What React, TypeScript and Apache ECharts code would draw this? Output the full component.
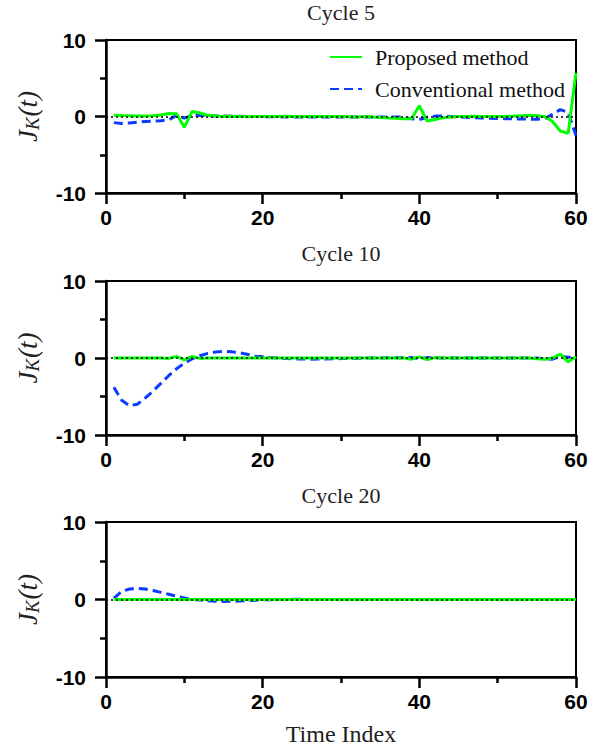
import React, { useEffect, useRef } from "react";
import * as echarts from "echarts";

const timeIndex: number[] = Array.from({ length: 60 }, (_, i) => i + 1);

const cycleTitles = ["Cycle 5", "Cycle 10", "Cycle 20"];
const seriesNames = ["Proposed method", "Conventional method"];

const proposed5 = [
  0.15, 0.12, 0.1, 0.05, 0.05, 0.1, 0.2, 0.4, 0.35, -1.4,
  0.65, 0.45, 0.15, 0.05, 0.0, 0.02, 0.0, -0.02, 0.0, 0.01,
  0.0, 0.0, 0.02, 0.0, -0.02, 0.0, 0.0, 0.01, 0.0, 0.0,
  -0.03, -0.05, 0.0, -0.08, -0.12, -0.18, -0.22, -0.3, -0.3, 1.4,
  -0.6, -0.4, -0.15, -0.05, 0.0, 0.0, 0.02, 0.0, 0.0, 0.0,
  0.02, 0.05, 0.1, 0.15, 0.1, 0.0, -0.65, -1.9, -2.2, 5.7,
];
const conventional5 = [
  -0.8, -0.9, -0.85, -0.75, -0.65, -0.6, -0.55, -0.45, 0.15, -0.2,
  0.1, 0.15, 0.1, 0.05, 0.05, 0.03, 0.02, 0.0, 0.0, -0.02,
  -0.03, -0.03, -0.05, -0.05, -0.06, -0.07, -0.08, -0.08, -0.08, -0.08,
  -0.08, -0.08, -0.07, -0.06, -0.06, -0.05, -0.05, -0.1, -0.3, -0.4,
  -0.1, 0.05, 0.05, 0.0, -0.05, -0.1, -0.15, -0.2, -0.22, -0.25,
  -0.28, -0.3, -0.33, -0.35, -0.35, -0.3, 0.3, 0.9, 0.5, -2.5,
];
const proposed10 = [
  0.0, 0.0, 0.0, 0.0, 0.0, 0.0, 0.0, -0.05, 0.2, -0.25,
  0.2, -0.05, 0.0, 0.0, 0.0, 0.0, 0.0, 0.0, 0.0, 0.0,
  0.0, 0.0, 0.0, 0.0, 0.0, 0.0, 0.0, 0.0, 0.0, 0.0,
  0.0, 0.0, 0.0, 0.0, 0.0, 0.0, 0.0, 0.0, -0.15, 0.15,
  -0.2, 0.05, 0.0, 0.0, 0.0, 0.0, 0.0, 0.0, 0.0, 0.0,
  0.0, 0.0, 0.0, 0.0, -0.1, -0.15, 0.0, 0.5, -0.5, 0.15,
];
const conventional10 = [
  -3.8, -5.5, -6.2, -6.0, -5.2, -4.3, -3.3, -2.3, -1.4, -0.7,
  -0.1, 0.3, 0.6, 0.78, 0.85, 0.8, 0.68, 0.5, 0.32, 0.18,
  0.06, -0.02, -0.08, -0.12, -0.14, -0.15, -0.14, -0.12, -0.1, -0.08,
  -0.06, -0.04, -0.02, 0.0, 0.0, 0.02, 0.02, 0.02, 0.05, -0.1,
  0.05, 0.02, 0.0, 0.0, 0.0, 0.0, 0.0, 0.0, 0.0, 0.0,
  0.0, 0.0, 0.0, 0.0, 0.0, -0.1, -0.15, 0.2, 0.1, 0.1,
];
const proposed20 = [
  0, 0, 0, 0, 0, 0, 0, 0, 0, 0,
  0, 0, 0, 0, 0, 0, 0, 0, 0, 0,
  0, 0, 0, 0, 0, 0, 0, 0, 0, 0,
  0, 0, 0, 0, 0, 0, 0, 0, 0, 0,
  0, 0, 0, 0, 0, 0, 0, 0, 0, 0,
  0, 0, 0, 0, 0, 0, 0, 0, 0, 0,
];
const conventional20 = [
  0.15, 1.05, 1.35, 1.43, 1.35, 1.17, 0.92, 0.68, 0.42, 0.2,
  0.03, -0.08, -0.17, -0.23, -0.26, -0.24, -0.2, -0.14, -0.09, -0.05,
  -0.02, 0.0, 0.01, 0.02, 0.02, 0.01, 0.0, 0.0, 0.0, 0.0,
  0.0, 0.0, 0.0, 0.0, 0.0, 0.0, 0.0, 0.0, 0.0, 0.0,
  0.0, 0.0, 0.0, 0.0, 0.0, 0.0, 0.0, 0.0, 0.0, 0.0,
  0.0, 0.0, 0.0, 0.0, 0.0, 0.0, 0.0, 0.0, 0.0, 0.0,
];

const proposedAll = [proposed5, proposed10, proposed20];
const conventionalAll = [conventional5, conventional10, conventional20];

const xTicks = [0, 60, 20];
const yTicks = [-10, 10, 10];

const GREEN = "#00ff00";
const BLUE = "#0a3cff";
const SERIF = "'Liberation Serif', 'DejaVu Serif', serif";
const SANS = "'Liberation Sans', Arial, sans-serif";

const grids = [
  { left: 106, top: 40, width: 470, height: 153 },
  { left: 106, top: 281, width: 470, height: 154 },
  { left: 106, top: 522, width: 470, height: 155 },
];
const titleTops = [1, 242, 484];

export default function App() {
  const ref = useRef<HTMLDivElement>(null);
  useEffect(() => {
    if (!ref.current) return;
    const chart = echarts.init(ref.current, undefined, { renderer: "svg" });
    const pair = (arr: number[]) => arr.map((v, i) => [timeIndex[i], v]);

    const option: any = {
      animation: false,
      backgroundColor: "#fff",
      title: cycleTitles.map((t, i) => ({
        text: t,
        left: 341,
        top: titleTops[i],
        padding: 0,
        textAlign: "center",
        textStyle: { fontFamily: SERIF, fontWeight: "normal", fontSize: 22, color: "#222" },
      })),
      legend: {
        data: seriesNames,
        orient: "vertical",
        left: 324,
        top: 41,
        itemWidth: 32,
        itemHeight: 14,
        itemGap: 10,
        itemStyle: { opacity: 0, borderWidth: 0 },
        textStyle: { fontFamily: SERIF, fontSize: 22, color: "#111", padding: [0, 0, 0, 8] },
      },
      grid: grids.map((g) => ({
        ...g,
        show: true,
        borderColor: "#000",
        borderWidth: 2,
        backgroundColor: "transparent",
      })),
      xAxis: grids.map((_, i) => ({
        type: "value",
        gridIndex: i,
        min: xTicks[0],
        max: xTicks[1],
        interval: xTicks[2],
        name: i === 2 ? "Time Index" : "",
        nameLocation: "middle",
        nameGap: 45,
        nameTextStyle: { fontFamily: SERIF, fontSize: 24, color: "#222" },
        axisLine: { show: true, onZero: false, lineStyle: { color: "#000", width: 2.5 } },
        axisTick: { show: true, inside: false, length: 11, lineStyle: { color: "#000", width: 2.5 } },
        minorTick: { show: true, splitNumber: 2, length: 6, lineStyle: { color: "#000", width: 2.5 } },
        splitLine: { show: false },
        axisLabel: { margin: 14, fontFamily: SANS, fontWeight: "bold", fontSize: 21, color: "#000" },
      })),
      yAxis: grids.map((_, i) => ({
        type: "value",
        gridIndex: i,
        min: yTicks[0],
        max: yTicks[1],
        interval: yTicks[2],
        name: "{j|J}{k|K}{p|(t)}",
        nameLocation: "middle",
        nameRotate: 90,
        nameGap: 64,
        nameTextStyle: {
          rich: {
            j: { fontFamily: SERIF, fontStyle: "italic", fontSize: 27, color: "#222" },
            k: { fontFamily: SERIF, fontStyle: "italic", fontSize: 19, color: "#222", verticalAlign: "bottom", padding: [10, 1, 0, 0] },
            p: { fontFamily: SERIF, fontStyle: "italic", fontSize: 27, color: "#222" },
          },
        },
        axisLine: { show: true, onZero: false, lineStyle: { color: "#000", width: 2.5 } },
        axisTick: { show: true, inside: false, length: 11, lineStyle: { color: "#000", width: 2.5 } },
        minorTick: { show: true, splitNumber: 2, length: 6, lineStyle: { color: "#000", width: 2.5 } },
        splitLine: { show: false },
        axisLabel: { margin: 20, fontFamily: SANS, fontWeight: "bold", fontSize: 21, color: "#000" },
      })),
      series: grids.flatMap((_, i) => [
        {
          name: seriesNames[1],
          type: "line",
          xAxisIndex: i,
          yAxisIndex: i,
          data: pair(conventionalAll[i]),
          symbol: "none",
          showSymbol: false,
          z: 2,
          color: BLUE,
          lineStyle: { color: BLUE, width: 3, type: [9, 5] },
          markLine: {
            silent: true,
            symbol: "none",
            label: { show: false },
            lineStyle: { color: "#000", type: [2, 3], width: 1.5 },
            data: [{ yAxis: 0 }],
          },
        },
        {
          name: seriesNames[0],
          type: "line",
          xAxisIndex: i,
          yAxisIndex: i,
          data: pair(proposedAll[i]),
          symbol: "none",
          showSymbol: false,
          z: 3,
          color: GREEN,
          lineStyle: { color: GREEN, width: 3 },
        },
      ]),
    };
    chart.setOption(option);
    return () => chart.dispose();
  }, []);

  return (
    <div
      ref={ref}
      style={{ position: "absolute", left: 0, top: 0, width: 602, height: 747, background: "#fff" }}
    />
  );
}
